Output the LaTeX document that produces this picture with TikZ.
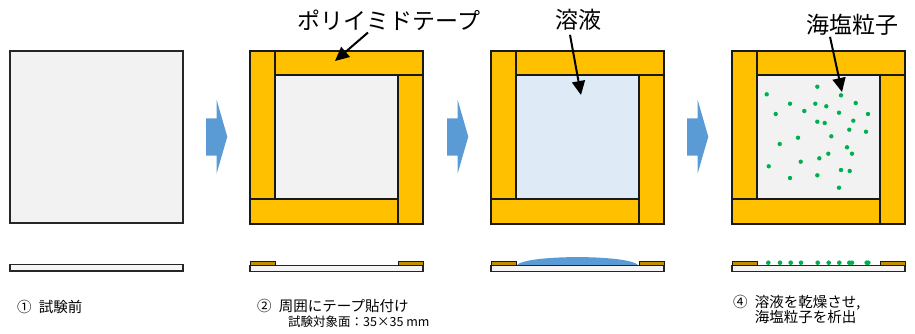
\documentclass[tikz,border=0pt]{standalone}
\usepackage{fontspec}
\setmainfont{Noto Sans CJK JP}
\usepackage{tikz}
\usetikzlibrary{positioning,arrows.meta}
\definecolor{tape}{HTML}{FFC000}
\definecolor{tapeside}{HTML}{BF9000}
\definecolor{plategray}{HTML}{F2F2F2}
\definecolor{liquid}{HTML}{DEEBF7}
\definecolor{flowblue}{HTML}{5B9BD5}
\definecolor{salt}{HTML}{00B050}
\tikzset{
  plate/.style={draw=black!85, line width=1.5pt, fill=plategray},
  tapebar/.style={draw=black!90, line width=1.5pt, fill=tape},
  tapeedge/.style={draw=black!90, line width=1pt, fill=tapeside},
  sidebar/.style={draw=black!85, line width=1.2pt, fill=black!4},
  callout/.style={font=\fontsize{23}{26}\selectfont, inner sep=0pt},
  pointer/.style={-{Triangle[length=14pt,width=13pt]}, line width=2pt},
  caption/.style={font=\fontsize{14.5}{15.5}\selectfont, anchor=west, align=left, inner sep=0pt},
  subcaption/.style={font=\fontsize{12.5}{14}\selectfont, anchor=west, inner sep=0pt},
  grain/.style={fill=salt, draw=none}
}

\begin{document}
\begin{tikzpicture}[x=1pt, y=-1pt]
  \useasboundingbox (0,0) rectangle (915,333);

  % plan views
  \draw[plate] (10,51) rectangle (183,223);
  \draw[plate] (250,51) rectangle (423,224);
  \draw[plate, fill=liquid] (491,51) rectangle (664,224);
  \draw[plate] (732,51) rectangle (904,224);
  \foreach \px in {250,491,732} {
    \draw[tapebar] (\px,51) rectangle (\px+25,199);
    \draw[tapebar] (\px+25,51) rectangle (\px+173,75);
    \draw[tapebar] (\px+148,75) rectangle (\px+173,224);
    \draw[tapebar] (\px,199) rectangle (\px+148,224);
  }

  % salt grains
  \foreach \dx/\dy in {766.7/94.3, 817.3/86.7, 841/95.3, 790/103.7, 815.3/103.7,
      826.3/106.3, 855.7/103, 775.7/114, 804.3/111, 839/112.7, 868/114,
      817.3/121.7, 824.7/123, 853.3/120.7, 849.3/129.7, 866/131.7, 798/137.7,
      831.3/136.3, 779.7/144, 847/147.3, 852/153.7, 828.3/153.7, 819.3/158.3,
      800.7/161.7, 768.7/166.3, 841/170, 849.7/171, 790/178, 817.3/175.3, 839/187.7}
    \fill[grain] (\dx,\dy) circle (2.2pt);

  % flow arrows
  \foreach \ax in {206,447,687}
    \fill[flowblue] (\ax,118.3) -- (\ax+10.7,118.3) -- (\ax+10.7,100) -- (\ax+21.3,136.7)
      -- (\ax+10.7,173.3) -- (\ax+10.7,155.7) -- (\ax,155.7) -- cycle;

  % callouts
  \node[callout] (tapelbl) at (389,20) {ポリイミドテープ};
  \coordinate (tapetip) at (335,61);
  \draw[pointer] ([xshift=-21pt,yshift=-2pt]tapelbl.south) -- (tapetip);
  \node[callout] (liqlbl) at (578,20) {溶液};
  \coordinate (liqtip) at (581,95);
  \draw[pointer] ([xshift=-8pt,yshift=-4pt]liqlbl.south) -- (liqtip);
  \node[callout] (saltlbl) at (852,25) {海塩粒子};
  \coordinate (salttip) at (842,92);
  \draw[pointer] ([xshift=-22pt,yshift=-1pt]saltlbl.south) -- (salttip);

  % side views
  \draw[sidebar] (10,264.5) rectangle (183,271);
  \fill[flowblue] (516.5,265.5) .. controls (524,254.3) and (631,254.3) .. (638.5,265.5) -- cycle;
  \foreach \dx in {768.3,780,790.7,801,817.7,828.7,839.3,849.3,852,866.7,868.3}
    \fill[grain] (\dx,262.7) circle (2.3pt);
  \foreach \px in {250,491,732} {
    \draw[sidebar] (\px,265.5) rectangle (\px+173,271.5);
    \draw[tapeedge] (\px,261.5) rectangle (\px+25,265.5);
    \draw[tapeedge] (\px+148,261.5) rectangle (\px+173,265.5);
  }

  % captions
  \node[caption] (cap1) at (17,307) {①\enspace 試験前};
  \node[caption] (cap2) at (257,306) {②\enspace 周囲にテープ貼付け};
  \node[subcaption] (cap2b) at (288,322) {試験対象面：35×35 mm};
  \node[caption] (cap4) at (733,309.4) {④\enspace 溶液を乾燥させ,\\\phantom{④}\enspace 海塩粒子を析出};
\end{tikzpicture}
\end{document}
